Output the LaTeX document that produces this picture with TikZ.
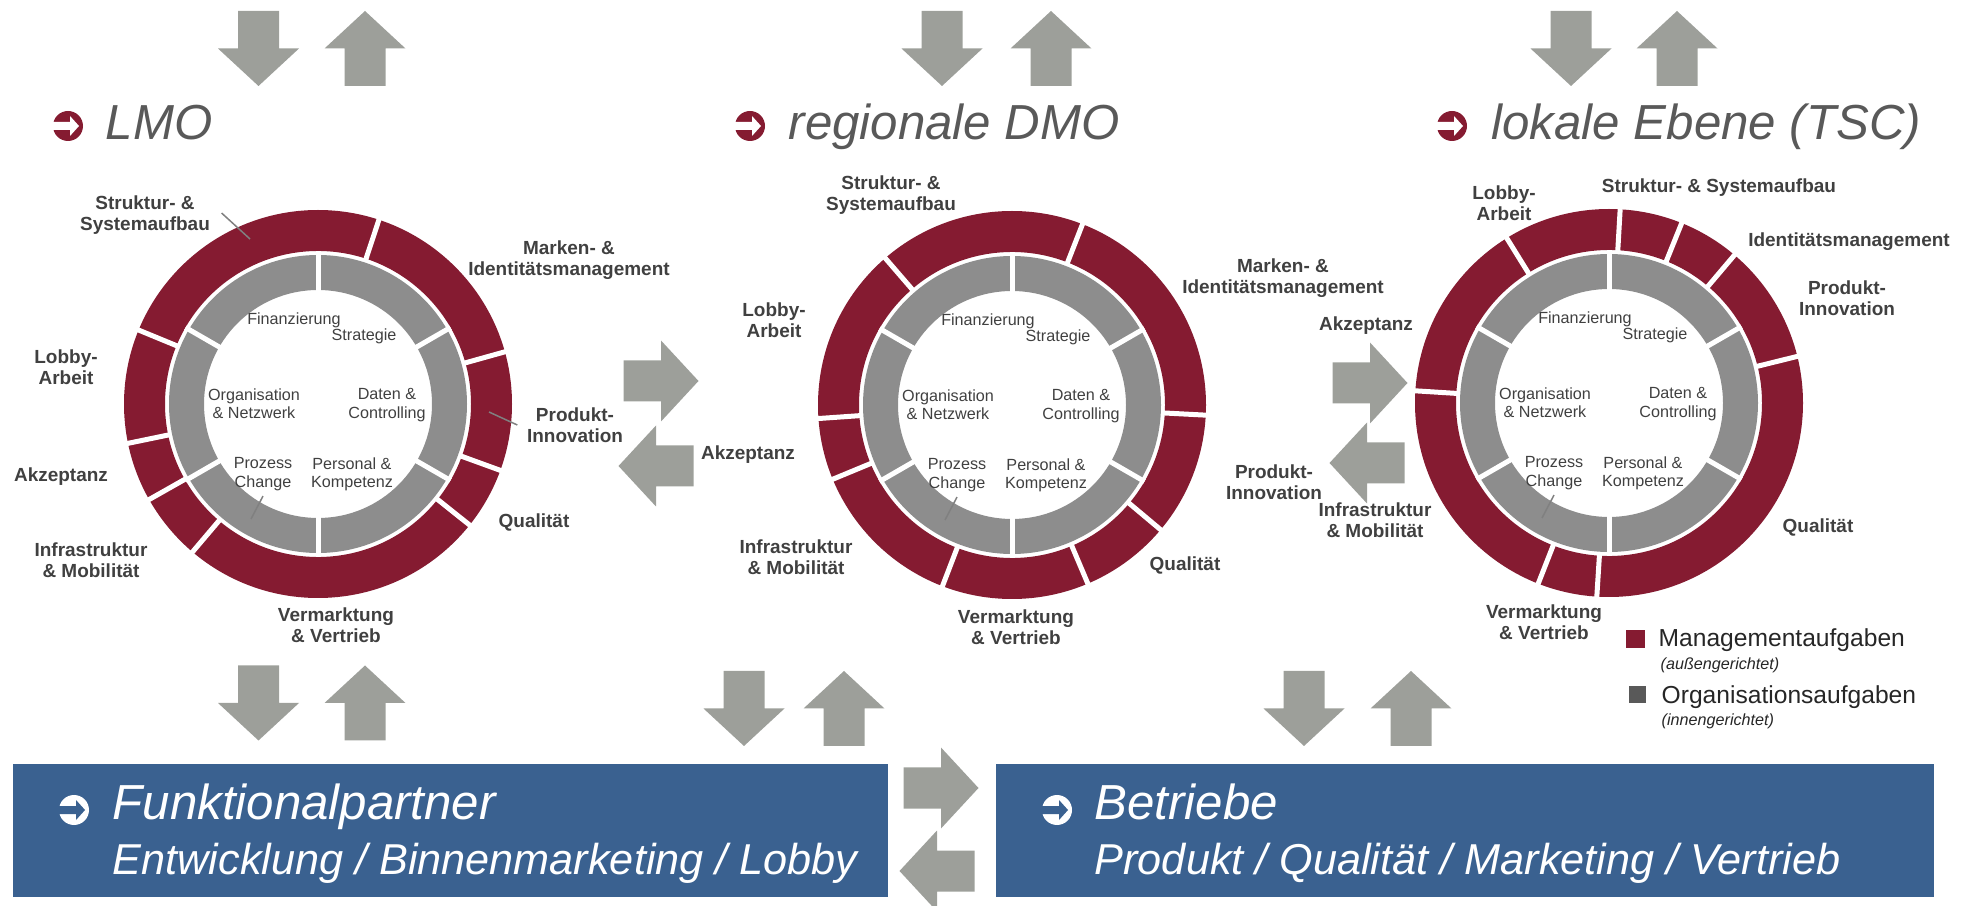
\documentclass[tikz,border=0pt]{standalone}
\usepackage{fontspec}
\setmainfont{Liberation Sans}

\definecolor{mred}{RGB}{133,27,49}
\definecolor{ringgray}{RGB}{141,141,141}
\definecolor{arrowgray}{RGB}{157,159,154}
\definecolor{boxblue}{RGB}{58,97,144}
\definecolor{textgray}{RGB}{64,64,64}
\definecolor{titlegray}{RGB}{89,89,89}

\tikzset{
  seglabel/.style={font=\fontsize{5.4}{6}\selectfont\bfseries, text=textgray, align=center, inner sep=0pt},
  inlabel/.style={font=\fontsize{4.6}{5.2}\selectfont, text=textgray, align=center, inner sep=0pt},
  leveltitle/.style={font=\fontsize{14}{16}\selectfont\itshape, text=titlegray, inner sep=0pt, anchor=base west},
  boxline/.style={font=\fontsize{14}{16}\selectfont\itshape, text=white, inner sep=0pt, anchor=base west},
  boxsub/.style={font=\fontsize{12.3}{14}\selectfont\itshape, text=white, inner sep=0pt, anchor=base west},
  legendtext/.style={font=\fontsize{7}{8}\selectfont, text=black!85, inner sep=0pt, anchor=base west},
  legendsub/.style={font=\fontsize{4.6}{5}\selectfont\itshape, text=black!85, inner sep=0pt, anchor=base west},
  cutline/.style={white, line width=0.5mm},
  pointer/.style={draw=gray, line width=0.15mm},
}

% grauer Blockpfeil: x, y, Drehung
\newcommand{\grayarrow}[3]{%
  \fill[arrowgray, shift={(#1,#2)}, rotate=#3]
    (-37.5,-20.5) -- (0,-20.5) -- (0,-40.5) -- (37.5,0) -- (0,40.5) -- (0,20.5) -- (-37.5,20.5) -- cycle;}
% Pfeilsymbol im Kreis: x, y, Kreisfarbe, Pfeilfarbe
\newcommand{\goicon}[4]{%
  \fill[#3] (#1,#2) circle (15);
  \fill[#4, shift={(#1,#2)}]
    (-15,-4) -- (2,-4) -- (2,-10) -- (11,0) -- (2,10) -- (2,4) -- (-15,4) -- cycle;}

\begin{document}
\begin{tikzpicture}[x=0.1mm, y=0.1mm]
  \useasboundingbox (0,0) rectangle (1969,-906);

  % Mittelpunkte der Kreise
  \coordinate (lmo) at (318,-404);
  \coordinate (dmo) at (1012,-405);
  \coordinate (tsc) at (1609,-403);

  % Managementaufgaben (roter Ring)
  \foreach \c in {lmo,dmo,tsc}
    \fill[mred, even odd rule] (\c) circle (194) (\c) circle (153);
  \foreach \a in {15.6,71.7,157.6,191.7,209.5,229.7,321.4,340}
    \draw[cutline] (lmo) ++(\a:150) -- ++(\a:48);
  \foreach \a in {-3,68.7,130.8,184,202.5,249,293,320}
    \draw[cutline] (dmo) ++(\a:150) -- ++(\a:48);
  \foreach \a in {13.9,49.7,68,86.7,121.8,176.4,248.6,266.4}
    \draw[cutline] (tsc) ++(\a:150) -- ++(\a:48);

  % Organisationsaufgaben (grauer Ring)
  \foreach \c in {lmo,dmo,tsc} {
    \fill[ringgray, even odd rule] (\c) circle (149) (\c) circle (114);
    \foreach \a in {30,90,...,330}
      \draw[cutline] (\c) ++(\a:110) -- ++(\a:43);
    \node[inlabel] (\c-fin) at ([shift={(-24,84)}]\c) {Finanzierung};
    \node[inlabel] (\c-str) at ([shift={(46,68)}]\c) {Strategie};
    \node[inlabel] (\c-org) at ([shift={(-64,0)}]\c) {Organisation\\\& Netzwerk};
    \node[inlabel] (\c-dat) at ([shift={(69,-1)}]\c) {Daten \&\\Controlling};
    \node[inlabel] (\c-proz) at ([shift={(-55,-70)}]\c) {Prozess\\Change};
    \node[inlabel] (\c-pers) at ([shift={(34,-70)}]\c) {Personal \&\\Kompetenz};
    \coordinate (\c-pend) at ([shift={(-67,-115)}]\c);
    \draw[pointer] ([shift={(0,-5)}]\c-proz.south) -- (\c-pend);
  }

  % Beschriftung LMO
  \node[seglabel] (L-struktur) at (145,-215) {Struktur- \&\\Systemaufbau};
  \node[seglabel] (L-marken) at (569,-260) {Marken- \&\\Identitätsmanagement};
  \node[seglabel] (L-lobby) at (66,-367) {Lobby-\\Arbeit};
  \node[seglabel] (L-produkt) at (575,-425) {Produkt-\\Innovation};
  \node[seglabel] (L-akzeptanz) at (61,-477) {Akzeptanz};
  \node[seglabel] (L-qualitaet) at (534,-522) {Qualität};
  \node[seglabel] (L-infra) at (91,-560) {Infrastruktur\\\& Mobilität};
  \node[seglabel] (L-vermarktung) at (336,-625) {Vermarktung\\\& Vertrieb};
  \coordinate (L-p1) at (250,-239);
  \coordinate (L-p2) at (489,-412);
  \draw[pointer] ([shift={(11,2)}]L-struktur.east) -- (L-p1);
  \draw[pointer] (L-p2) -- ([shift={(-9,0)}]L-produkt.west);

  % Beschriftung regionale DMO
  \node[seglabel] (D-struktur) at (891,-195) {Struktur- \&\\Systemaufbau};
  \node[seglabel] (D-marken) at (1283,-278) {Marken- \&\\Identitätsmanagement};
  \node[seglabel] (D-lobby) at (774,-320) {Lobby-\\Arbeit};
  \node[seglabel] (D-akzeptanz) at (748,-455) {Akzeptanz};
  \node[seglabel] (D-produkt) at (1274,-482) {Produkt-\\Innovation};
  \node[seglabel] (D-infra) at (796,-557) {Infrastruktur\\\& Mobilität};
  \node[seglabel] (D-qualitaet) at (1185,-565) {Qualität};
  \node[seglabel] (D-vermarktung) at (1016,-627) {Vermarktung\\\& Vertrieb};

  % Beschriftung lokale Ebene
  \node[seglabel] (T-struktur) at (1719,-188) {Struktur- \& Systemaufbau};
  \node[seglabel] (T-lobby) at (1504,-203) {Lobby-\\Arbeit};
  \node[seglabel] (T-identitaet) at (1849,-242) {Identitätsmanagement};
  \node[seglabel] (T-produkt) at (1847,-298) {Produkt-\\Innovation};
  \node[seglabel] (T-akzeptanz) at (1366,-326) {Akzeptanz};
  \node[seglabel] (T-infra) at (1375,-520) {Infrastruktur\\\& Mobilität};
  \node[seglabel] (T-qualitaet) at (1818,-527) {Qualität};
  \node[seglabel] (T-vermarktung) at (1544,-622) {Vermarktung\\\& Vertrieb};

  % Titel
  \goicon{68}{-126}{mred}{white}
  \node[leveltitle] (lmotitle) at (105,-140) {LMO};
  \goicon{750}{-126}{mred}{white}
  \node[leveltitle] (dmotitle) at (788,-140) {regionale DMO};
  \goicon{1452}{-126}{mred}{white}
  \node[leveltitle] (tsctitle) at (1491,-140) {lokale Ebene (TSC)};

  % Pfeile oben
  \grayarrow{258.5}{-48.5}{-90}
  \grayarrow{365}{-48.5}{90}
  \grayarrow{942}{-48.5}{-90}
  \grayarrow{1051}{-48.5}{90}
  \grayarrow{1571}{-48.5}{-90}
  \grayarrow{1677}{-48.5}{90}

  % Pfeile zwischen den Kreisen
  \grayarrow{661}{-381}{0}
  \grayarrow{656}{-466}{180}
  \grayarrow{1370}{-383}{0}
  \grayarrow{1367}{-463}{180}

  % Pfeile unten
  \grayarrow{258.5}{-703}{-90}
  \grayarrow{365}{-703}{90}
  \grayarrow{744}{-708.5}{-90}
  \grayarrow{844}{-708.5}{90}
  \grayarrow{1304}{-708.5}{-90}
  \grayarrow{1411}{-708.5}{90}

  % Legende
  \fill[mred] (1626,-630) rectangle (1645,-648);
  \node[legendtext] (mgmt) at (1658,-647) {Managementaufgaben};
  \node[legendsub] (mgmtsub) at (1660,-670) {(außengerichtet)};
  \fill[titlegray] (1629,-686) rectangle (1646,-703);
  \node[legendtext] (orga) at (1661,-704) {Organisationsaufgaben};
  \node[legendsub] (orgasub) at (1661,-726) {(innengerichtet)};

  % Kästen unten
  \node[fill=boxblue, minimum width=87.5mm, minimum height=13.3mm, inner sep=0pt] (partner) at (450.5,-830.5) {};
  \node[fill=boxblue, minimum width=93.8mm, minimum height=13.3mm, inner sep=0pt] (betriebe) at (1465,-830.5) {};
  \goicon{74}{-810}{white}{boxblue}
  \node[boxline] (partnertitle) at (112,-820) {Funktionalpartner};
  \node[boxsub] (partnersub) at (112,-874) {Entwicklung / Binnenmarketing / Lobby};
  \goicon{1057}{-810}{white}{boxblue}
  \node[boxline] (betriebetitle) at (1094,-820) {Betriebe};
  \node[boxsub] (betriebesub) at (1094,-874) {Produkt / Qualität / Marketing / Vertrieb};

  % Pfeile zwischen den Kästen
  \grayarrow{941}{-788}{0}
  \grayarrow{937}{-871}{180}
\end{tikzpicture}
\end{document}
